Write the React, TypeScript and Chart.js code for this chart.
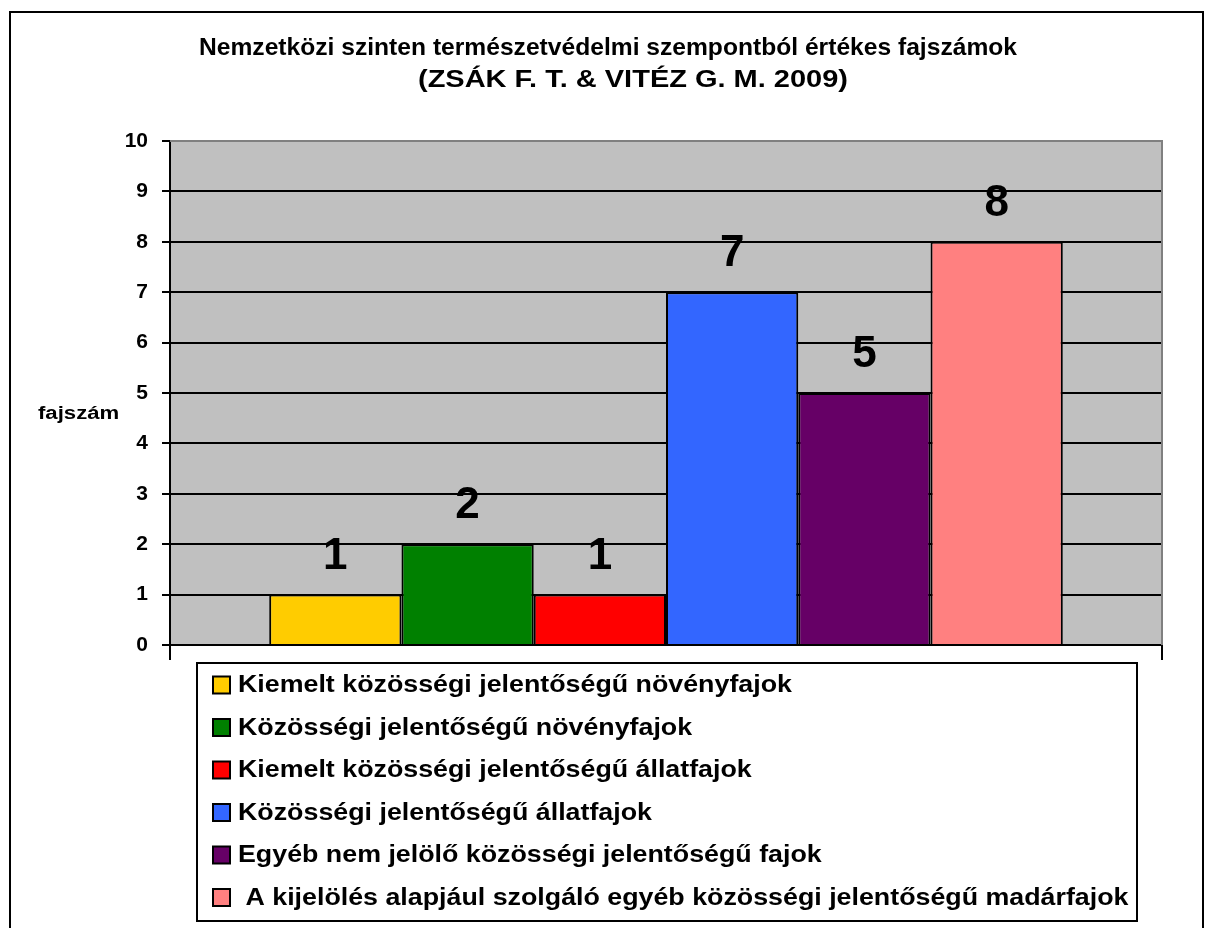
import React, { useEffect, useRef } from "react";
import { Chart, registerables } from "chart.js";

Chart.register(...registerables);

const titleLines = [
  "Nemzetközi szinten természetvédelmi szempontból értékes fajszámok",
  "(ZSÁK F. T. & VITÉZ G. M. 2009)",
];
const yAxisLabel = "fajszám";
const categories = [""];
const seriesNames = [
  "Kiemelt közösségi jelentőségű növényfajok",
  "Közösségi jelentőségű növényfajok",
  "Kiemelt közösségi jelentőségű állatfajok",
  "Közösségi jelentőségű állatfajok",
  "Egyéb nem jelölő közösségi jelentőségű fajok",
  " A kijelölés alapjául szolgáló egyéb közösségi jelentőségű madárfajok",
];
const seriesValues = [1, 2, 1, 7, 5, 8];
const seriesColors = ["#FFCC00", "#008000", "#FF0000", "#3366FF", "#660066", "#FF8080"];
const yMin = 0;
const yMax = 10;
const yStep = 1;

const FONT = "'Liberation Sans', Arial, Helvetica, sans-serif";

function drawStretched(ctx: any, text: string, x: number, y: number, font: string, sx: number, align: string) {
  ctx.save();
  ctx.font = font;
  ctx.textAlign = "left";
  ctx.textBaseline = "middle";
  const w = ctx.measureText(text).width * sx;
  const x0 = align === "center" ? x - w / 2 : x;
  ctx.translate(x0, y);
  ctx.scale(sx, 1);
  ctx.fillText(text, 0, 0);
  ctx.restore();
}

function drawFit(ctx: any, text: string, left: number, width: number, y: number, font: string) {
  ctx.save();
  ctx.font = font;
  const w = ctx.measureText(text).width;
  ctx.restore();
  drawStretched(ctx, text, left, y, font, width / w, "left");
}

const decorPlugin = {
  id: "decor",
  beforeDraw(chart: any) {
    const { ctx, chartArea } = chart;
    ctx.save();
    ctx.fillStyle = "#FFFFFF";
    ctx.fillRect(0, 0, chart.width, chart.height);
    ctx.fillStyle = "#C0C0C0";
    ctx.fillRect(chartArea.left, chartArea.top, chartArea.right - chartArea.left, chartArea.bottom - chartArea.top);
    ctx.restore();
  },
  afterDatasetsDraw(chart: any) {
    const { ctx } = chart;
    ctx.save();
    ctx.fillStyle = "#000000";
    ctx.font = `bold 44px ${FONT}`;
    ctx.textAlign = "center";
    ctx.textBaseline = "alphabetic";
    chart.data.datasets.forEach((ds: any, i: number) => {
      const meta = chart.getDatasetMeta(i);
      meta.data.forEach((bar: any, j: number) => {
        ctx.fillText(String(ds.data[j]), bar.x, bar.y - 26);
      });
    });
    ctx.restore();
  },
  afterDraw(chart: any) {
    const { ctx, chartArea } = chart;
    ctx.save();
    // plot border (gray top & right)
    ctx.strokeStyle = "#808080";
    ctx.lineWidth = 2;
    ctx.beginPath();
    ctx.moveTo(chartArea.left, chartArea.top);
    ctx.lineTo(chartArea.right, chartArea.top);
    ctx.lineTo(chartArea.right, chartArea.bottom);
    ctx.stroke();

    // outer border
    ctx.strokeStyle = "#000000";
    ctx.lineWidth = 2;
    ctx.strokeRect(10, 12, 1193, 1000);

    // title
    ctx.fillStyle = "#000000";
    drawFit(ctx, titleLines[0], 199, 818, 48, `bold 24px ${FONT}`);
    drawFit(ctx, titleLines[1], 418, 430, 80, `bold 24px ${FONT}`);

    // y axis label
    drawStretched(ctx, yAxisLabel, 38, 414, `bold 18px ${FONT}`, 1.23, "left");

    // legend
    const lx = 197, ly = 663, lw = 940, lh = 258;
    ctx.fillStyle = "#FFFFFF";
    ctx.fillRect(lx, ly, lw, lh);
    ctx.strokeStyle = "#000000";
    ctx.lineWidth = 2;
    ctx.strokeRect(lx, ly, lw, lh);
    chart.data.datasets.forEach((ds: any, i: number) => {
      const cy = 685 + i * 42.5;
      ctx.fillStyle = ds.backgroundColor;
      ctx.fillRect(213, cy - 8.5, 17, 17);
      ctx.strokeStyle = "#000000";
      ctx.lineWidth = 2;
      ctx.strokeRect(213, cy - 8.5, 17, 17);
      ctx.fillStyle = "#000000";
      drawStretched(ctx, ds.label, 238, cy + 1, `bold 23px ${FONT}`, 1.165, "left");
    });
    ctx.restore();
  },
};

export default function App() {
  const ref = useRef<HTMLCanvasElement | null>(null);
  useEffect(() => {
    if (!ref.current) return;
    const chart = new Chart(ref.current, {
      type: "bar",
      data: {
        labels: categories,
        datasets: seriesNames.map((name, i) => ({
          label: name,
          data: [seriesValues[i]],
          backgroundColor: seriesColors[i],
          borderColor: "#000000",
          borderWidth: 2,
          categoryPercentage: 0.8,
          barPercentage: 1.0,
        })),
      },
      options: {
        responsive: false,
        animation: false,
        devicePixelRatio: 1,
        layout: { padding: { left: 0, top: 141, right: 43, bottom: 928 - 645 - 15 } },
        plugins: {
          legend: { display: false },
          title: { display: false },
          tooltip: { enabled: false },
        },
        scales: {
          x: {
            type: "category",
            offset: true,
            grid: {
              offset: true,
              drawOnChartArea: false,
              drawTicks: true,
              tickLength: 15,
              color: "#000000",
              lineWidth: 2,
            },
            border: { display: true, color: "#000000", width: 2 },
            ticks: { display: false },
            afterFit: (scale: any) => {
              scale.height = 15;
            },
          },
          y: {
            min: yMin,
            max: yMax,
            ticks: {
              stepSize: yStep,
              color: "#000000",
              font: { family: FONT, size: 21, weight: "bold" },
              padding: 14,
            },
            grid: {
              color: (c: any) => (c.tick && c.tick.value === yMax ? "rgba(0,0,0,0)" : "#000000"),
              lineWidth: 2,
              tickLength: 8,
              tickColor: "#000000",
              drawTicks: true,
            },
            border: { display: true, color: "#000000", width: 2 },
            afterFit: (scale: any) => {
              scale.width = 170;
            },
          },
        },
      },
      plugins: [decorPlugin],
    } as any);
    return () => chart.destroy();
  }, []);
  return (
    <div style={{ position: "fixed", left: 0, top: 0, width: 1205, height: 928, background: "#fff" }}>
      <canvas ref={ref} width={1205} height={928} style={{ display: "block", width: 1205, height: 928 }} />
    </div>
  );
}
